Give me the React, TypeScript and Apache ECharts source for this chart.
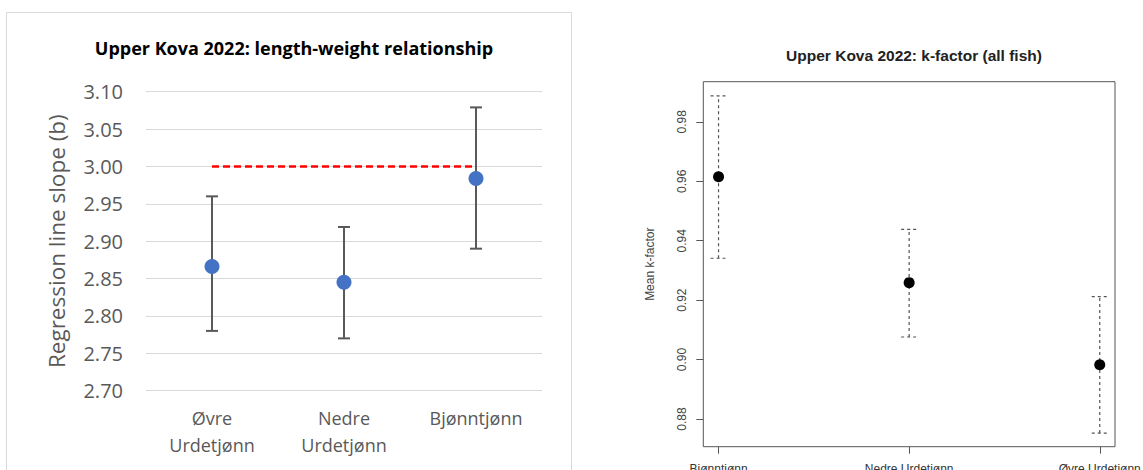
import React, { useEffect, useRef } from "react";
import * as echarts from "echarts";

// Left panel: regression slope (b)
const lwCategories = ["Øvre\nUrdetjønn", "Nedre\nUrdetjønn", "Bjønntjønn"];
const lwSlope = [2.866, 2.845, 2.984];
const lwLow = [2.78, 2.77, 2.89];
const lwHigh = [2.96, 2.919, 3.079];
const lwReference = 3.0;

// Right panel: mean k-factor
const kfCategories = ["Bjønntjønn", "Nedre Urdetjønn", "Øvre Urdetjønn"];
const kfPositions = [1, 2, 3];
const kfMean = [0.9615, 0.9259, 0.8983];
const kfLow = [0.9341, 0.9076, 0.8753];
const kfHigh = [0.9887, 0.9438, 0.9212];
const kfTicks = [0.88, 0.9, 0.92, 0.94, 0.96, 0.98];

const LEFT_FONT = "'Open Sans', sans-serif";
const RIGHT_FONT = "'Liberation Sans', Arial, sans-serif";

export default function App() {
  const ref = useRef<HTMLDivElement>(null);

  useEffect(() => {
    if (!ref.current) return;
    const chart = echarts.init(ref.current, null, { renderer: "svg" });

    const errorRender = (halfCap: number, color: string, width: number, dash: number[] | null) =>
      (params: any, api: any) => {
        const x = api.value(0);
        const lo = api.coord([x, api.value(1)]);
        const hi = api.coord([x, api.value(2)]);
        const style: any = { stroke: color, lineWidth: width };
        if (dash) style.lineDash = dash;
        return {
          type: "group",
          children: [
            { type: "line", shape: { x1: lo[0], y1: lo[1], x2: hi[0], y2: hi[1] }, style },
            { type: "line", shape: { x1: hi[0] - halfCap, y1: hi[1], x2: hi[0] + halfCap, y2: hi[1] }, style },
            { type: "line", shape: { x1: lo[0] - halfCap, y1: lo[1], x2: lo[0] + halfCap, y2: lo[1] }, style },
          ],
        };
      };

    chart.setOption({
      animation: false,
      backgroundColor: "#ffffff",
      title: [
        {
          text: "Upper Kova 2022: length-weight relationship",
          left: 289,
          top: 34,
          textAlign: "center",
          textStyle: { fontFamily: LEFT_FONT, fontSize: 18, fontWeight: "bold", color: "#000000" },
        },
        {
          text: "Upper Kova 2022: k-factor (all fish)",
          left: 909,
          top: 42,
          textAlign: "center",
          textStyle: { fontFamily: RIGHT_FONT, fontSize: 15.5, fontWeight: "bold", color: "#222222" },
        },
      ],
      graphic: [
        {
          type: "rect",
          shape: { x: 6.5, y: 12.5, width: 565, height: 480 },
          style: { fill: "none", stroke: "#D9D9D9", lineWidth: 1 },
          silent: true,
        },
      ],
      grid: [
        { left: 146, top: 91.7, width: 396, height: 299, outerBoundsMode: "none", containLabel: false },
        {
          left: 703.3,
          top: 81.7,
          width: 411.7,
          height: 365,
          show: true,
          borderColor: "#555555",
          borderWidth: 1,
          backgroundColor: "transparent",
          outerBoundsMode: "none",
          containLabel: false,
        },
      ],
      xAxis: [
        {
          type: "category",
          gridIndex: 0,
          data: lwCategories,
          boundaryGap: true,
          axisLine: { show: false },
          axisTick: { show: false },
          axisLabel: {
            fontFamily: LEFT_FONT,
            fontSize: 18,
            lineHeight: 27,
            color: "#595959",
            margin: 14,
          },
        },
        {
          type: "value",
          gridIndex: 1,
          min: 0.92,
          max: 3.08,
          axisLine: { show: false },
          splitLine: { show: false },
          axisTick: {
            show: true,
            customValues: kfPositions,
            length: 7,
            lineStyle: { color: "#555555", width: 1 },
          },
          axisLabel: {
            customValues: kfPositions,
            formatter: (v: number) => kfCategories[kfPositions.indexOf(Math.round(v))] ?? "",
            fontFamily: RIGHT_FONT,
            fontSize: 12,
            color: "#333333",
            margin: 16,
          },
        },
      ],
      yAxis: [
        {
          type: "value",
          gridIndex: 0,
          min: 2.7,
          max: 3.1,
          interval: 0.05,
          axisLine: { show: false },
          axisTick: { show: false },
          splitLine: { lineStyle: { color: "#D9D9D9", width: 1 } },
          axisLabel: {
            formatter: (v: number) => v.toFixed(2),
            fontFamily: LEFT_FONT,
            fontSize: 20,
            color: "#595959",
            margin: 23,
          },
          name: "Regression line slope (b)",
          nameLocation: "middle",
          nameRotate: 90,
          nameGap: 78,
          nameTextStyle: { fontFamily: LEFT_FONT, fontSize: 22.5, color: "#595959" },
        },
        {
          type: "value",
          gridIndex: 1,
          min: 0.8707,
          max: 0.9935,
          axisLine: { show: false },
          splitLine: { show: false },
          axisTick: {
            show: true,
            customValues: kfTicks,
            length: 7,
            lineStyle: { color: "#555555", width: 1 },
          },
          axisLabel: {
            customValues: kfTicks,
            rotate: 90,
            formatter: (v: number) => v.toFixed(2),
            fontFamily: RIGHT_FONT,
            fontSize: 12,
            color: "#444444",
            margin: 15,
          },
          name: "Mean k-factor",
          nameLocation: "middle",
          nameRotate: 90,
          nameGap: 47,
          nameTextStyle: { fontFamily: RIGHT_FONT, fontSize: 12, color: "#444444" },
        },
      ],
      series: [
        {
          type: "line",
          xAxisIndex: 0,
          yAxisIndex: 0,
          data: [
            [0, lwReference],
            [lwCategories.length - 1, lwReference],
          ],
          symbol: "none",
          lineStyle: { color: "#FF0000", width: 2.5, type: [7, 4] },
          z: 2,
        },
        {
          type: "custom",
          xAxisIndex: 0,
          yAxisIndex: 0,
          renderItem: errorRender(6, "#595959", 2, null),
          encode: { x: 0, y: [1, 2] },
          data: lwCategories.map((_, i) => [i, lwLow[i], lwHigh[i]]),
          z: 3,
        },
        {
          type: "scatter",
          xAxisIndex: 0,
          yAxisIndex: 0,
          data: lwCategories.map((_, i) => [i, lwSlope[i]]),
          symbol: "circle",
          symbolSize: 15,
          itemStyle: { color: "#4472C4", opacity: 1 },
          z: 4,
        },
        {
          type: "custom",
          xAxisIndex: 1,
          yAxisIndex: 1,
          renderItem: errorRender(8, "#555555", 1.2, [3, 3]),
          encode: { x: 0, y: [1, 2] },
          data: kfPositions.map((p, i) => [p, kfLow[i], kfHigh[i]]),
          z: 3,
        },
        {
          type: "scatter",
          xAxisIndex: 1,
          yAxisIndex: 1,
          data: kfPositions.map((p, i) => [p, kfMean[i]]),
          symbol: "circle",
          symbolSize: 11,
          itemStyle: { color: "#000000", opacity: 1 },
          z: 4,
        },
      ],
    });

    return () => chart.dispose();
  }, []);

  return (
    <div
      ref={ref}
      style={{ position: "absolute", left: 0, top: 0, width: 1143, height: 470 }}
    />
  );
}
